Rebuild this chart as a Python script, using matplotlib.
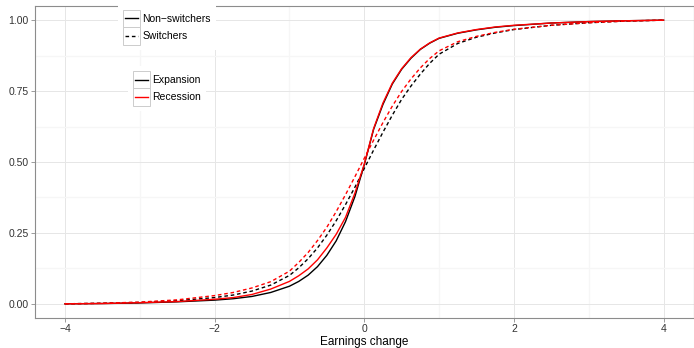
import matplotlib
matplotlib.use("Agg")
import matplotlib.pyplot as plt
from matplotlib.patches import Rectangle
from matplotlib.lines import Line2D
from matplotlib.legend_handler import HandlerLine2D

plt.rcParams['font.family'] = ['Liberation Sans', 'DejaVu Sans']

# Empirical CDFs of earnings change
earnings_change = [-4, -3.5, -3, -2.5, -2, -1.75, -1.5, -1.25, -1, -0.875, -0.75,
                   -0.625, -0.5, -0.375, -0.25, -0.125, 0, 0.125, 0.25, 0.375,
                   0.5, 0.625, 0.75, 0.875, 1, 1.25, 1.5, 1.75, 2, 2.5, 3, 3.5, 4]

nonswitch_expansion = [0.000, 0.001, 0.003, 0.007, 0.013, 0.018, 0.026, 0.040, 0.062,
                       0.079, 0.101, 0.131, 0.171, 0.222, 0.290, 0.378, 0.490, 0.615,
                       0.703, 0.775, 0.827, 0.866, 0.897, 0.919, 0.936, 0.954, 0.966,
                       0.975, 0.981, 0.990, 0.995, 0.998, 1.000]
nonswitch_recession = [0.000, 0.001, 0.004, 0.008, 0.016, 0.022, 0.033, 0.052, 0.079,
                       0.099, 0.123, 0.155, 0.197, 0.245, 0.305, 0.390, 0.492, 0.618,
                       0.708, 0.778, 0.829, 0.868, 0.898, 0.920, 0.937, 0.955, 0.967,
                       0.976, 0.982, 0.990, 0.995, 0.998, 1.000]
switch_expansion = [0.000, 0.002, 0.005, 0.011, 0.022, 0.031, 0.045, 0.066, 0.100,
                    0.127, 0.159, 0.197, 0.242, 0.293, 0.350, 0.411, 0.477, 0.542,
                    0.605, 0.665, 0.721, 0.768, 0.810, 0.848, 0.880, 0.918, 0.940,
                    0.955, 0.967, 0.982, 0.991, 0.997, 1.000]
switch_recession = [0.000, 0.002, 0.006, 0.014, 0.029, 0.040, 0.056, 0.078, 0.115,
                    0.146, 0.181, 0.223, 0.270, 0.325, 0.385, 0.448, 0.513, 0.577,
                    0.639, 0.697, 0.749, 0.793, 0.832, 0.865, 0.892, 0.924, 0.943,
                    0.957, 0.968, 0.982, 0.991, 0.997, 1.000]

x_ticks = [-4, -2, 0, 2, 4]
y_ticks = [0.0, 0.25, 0.5, 0.75, 1.0]
y_tick_labels = ["0.00", "0.25", "0.50", "0.75", "1.00"]

W, H = 694, 348
fig = plt.figure(figsize=(W / 100, H / 100), dpi=100)
left, right, top, bottom = 35, 693.5, 6, 318
ax = fig.add_axes([left / W, 1 - bottom / H, (right - left) / W, (bottom - top) / H])

LW = 1.0
DASH = (0, (2.6, 2.0))
ax.plot(earnings_change, nonswitch_expansion, color='black', lw=LW)
ax.plot(earnings_change, switch_expansion, color='black', lw=LW, linestyle=DASH)
ax.plot(earnings_change, nonswitch_recession, color='#ff0000', lw=LW)
ax.plot(earnings_change, switch_recession, color='#ff0000', lw=LW, linestyle=DASH)

ax.set_xlim(-4.4, 4.4)
ax.set_ylim(-0.05, 1.05)
ax.set_xticks(x_ticks)
ax.set_yticks(y_ticks)
ax.set_yticklabels(y_tick_labels)
ax.set_xticks([-3, -1, 1, 3], minor=True)
ax.set_yticks([0.125, 0.375, 0.625, 0.875], minor=True)

ax.grid(which='major', color='#e6e6e6', lw=0.7)
ax.grid(which='minor', color='#f6f6f6', lw=0.9)
ax.set_axisbelow(True)
for s in ax.spines.values():
    s.set_color('#8c8c8c')
    s.set_linewidth(0.8)
ax.tick_params(which='major', length=3, width=0.6, color='#8c8c8c',
               labelsize=7.5, labelcolor='#333333', pad=1.5)
ax.tick_params(which='minor', length=0)
ax.set_xlabel("Earnings change", fontsize=8.5, labelpad=1.5)


class BoxedKey(HandlerLine2D):
    """Legend key drawn inside a light bordered square."""
    def create_artists(self, legend, orig_handle, xdescent, ydescent,
                       width, height, fontsize, trans):
        box = Rectangle((-xdescent, -ydescent), width, height, facecolor='white',
                        edgecolor='#cccccc', lw=0.7, transform=trans)
        y = -ydescent + height / 2
        line = Line2D([-xdescent + 0.12 * width, -xdescent + 0.88 * width], [y, y])
        self.update_prop(line, orig_handle, legend)
        line.set_transform(trans)
        return [box, line]


def key_legend(handles, labels, x_px, y_px):
    leg = ax.legend(handles, labels, loc='upper left',
                    bbox_to_anchor=(x_px / W, 1 - y_px / H),
                    bbox_transform=fig.transFigure, borderaxespad=0,
                    handler_map={Line2D: BoxedKey()},
                    fontsize=7.5, handlelength=1.6, handleheight=2.2,
                    labelspacing=0, handletextpad=0.25, borderpad=0.5,
                    frameon=True, fancybox=False, framealpha=1,
                    facecolor='white', edgecolor='none')
    return leg


style_handles = [Line2D([], [], color='black', lw=LW),
                 Line2D([], [], color='black', lw=LW, linestyle=DASH)]
leg1 = key_legend(style_handles, ["Non\u2212switchers", "Switchers"], 117.8, 4.5)
ax.add_artist(leg1)

colour_handles = [Line2D([], [], color='black', lw=LW),
                  Line2D([], [], color='#ff0000', lw=LW)]
key_legend(colour_handles, ["Expansion", "Recession"], 127.8, 65.8)

fig.savefig("out.png", dpi=100)
